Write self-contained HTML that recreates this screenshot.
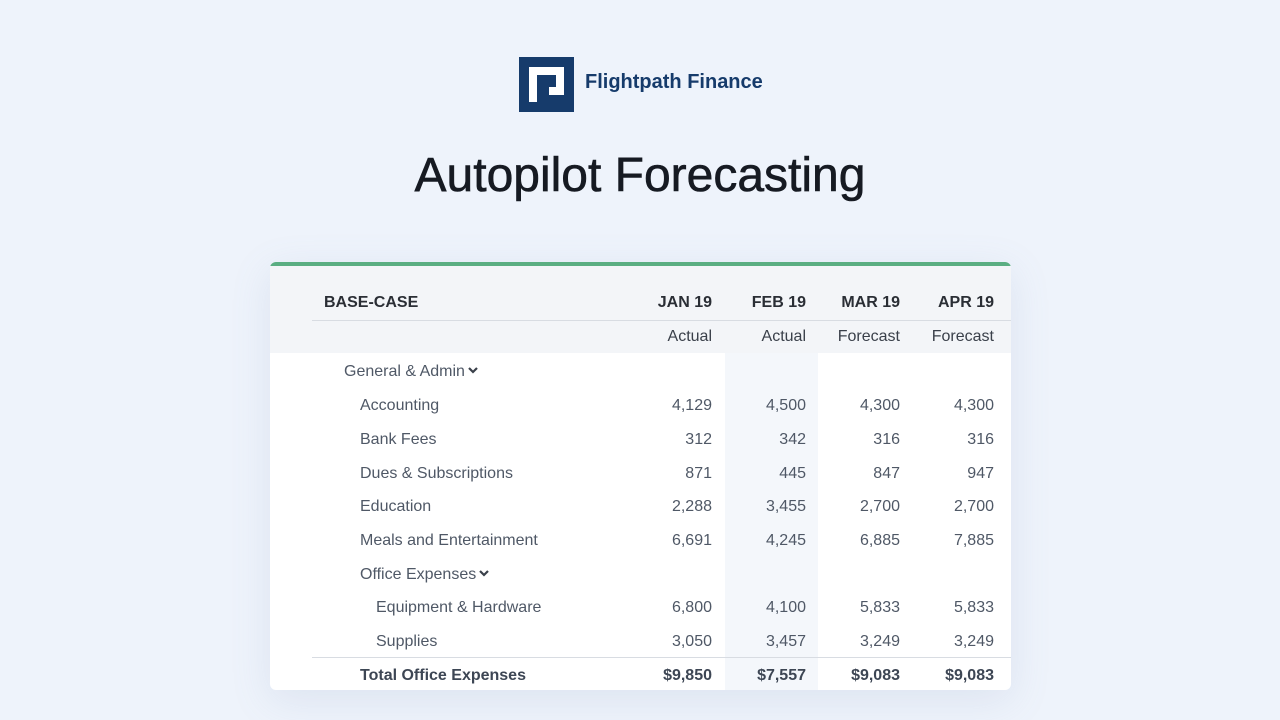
<!DOCTYPE html>
<html><head><meta charset="utf-8"><style>
*{margin:0;padding:0;box-sizing:border-box}
body{width:1280px;height:720px;background:#eef3fb;font-family:"Liberation Sans",sans-serif;position:relative;overflow:hidden}
.a{position:absolute;white-space:nowrap}
.card{position:absolute;left:270px;top:262px;width:741px;height:428px;background:#fff;border-radius:6px;box-shadow:0 10px 40px rgba(120,140,180,0.15);overflow:hidden}
.hdr{position:absolute;left:0;top:0;width:741px;height:91px;background:#f3f5f8;border-top:4px solid #5aae82}
.feb{position:absolute;left:455px;top:91px;width:93px;height:337px;background:#f4f7fb}
.h,.s,.t,.n{margin-top:2px}
.h{font-size:16px;font-weight:bold;color:#2a2e35}
.s{font-size:16px;color:#3a404a}
.t{font-size:16px;color:#4f5866}
.n{font-size:16px;color:#4f5866;text-align:right;width:90px}
.b{font-weight:bold;color:#3d4654}
.chev{display:inline-block;vertical-align:middle;margin-left:2px;margin-top:-3px}
</style></head><body>
<svg class="a" style="left:519px;top:57px" width="55" height="55" viewBox="0 0 55 55">
<rect width="55" height="55" fill="#163b6b"/>
<path d="M10 10 H45 V38 H30 V30 H37 V18 H18 V45 H10 Z" fill="#fff"/>
</svg>
<div class="a" style="left:585px;top:71px;font-size:20px;font-weight:bold;color:#163b6b">Flightpath Finance</div>
<div class="a" style="left:0;width:1280px;text-align:center;top:148px;font-size:48px;color:#161a22;-webkit-text-stroke:0.6px #161a22">Autopilot Forecasting</div>
<div class="card">
<div class="hdr"></div>
<div class="feb"></div>
<div class="a" style="left:42px;top:58px;width:699px;height:1px;background:#d8dce2"></div>
<div class="a" style="left:42px;top:395px;width:699px;height:1px;background:#d8dce2"></div>
</div>
<div class="a h" style="left:324px;top:292px">BASE-CASE</div>
<div class="a h n" style="left:622px;top:292px;color:#2a2e35;font-weight:bold">JAN 19</div>
<div class="a h n" style="left:716px;top:292px;color:#2a2e35;font-weight:bold">FEB 19</div>
<div class="a h n" style="left:810px;top:292px;color:#2a2e35;font-weight:bold">MAR 19</div>
<div class="a h n" style="left:904px;top:292px;color:#2a2e35;font-weight:bold">APR 19</div>
<div class="a s n" style="left:622px;top:326px;color:#3a404a">Actual</div>
<div class="a s n" style="left:716px;top:326px;color:#3a404a">Actual</div>
<div class="a s n" style="left:810px;top:326px;color:#3a404a">Forecast</div>
<div class="a s n" style="left:904px;top:326px;color:#3a404a">Forecast</div>
<div class="a t" style="left:344px;top:361px">General &amp; Admin<svg class="chev" width="12" height="8" viewBox="0 0 12 8"><path d="M2 2 L6 6 L10 2" stroke="#3a404a" stroke-width="2.2" fill="none"/></svg></div>
<div class="a t" style="left:360px;top:395px">Accounting</div>
<div class="a t" style="left:360px;top:429px">Bank Fees</div>
<div class="a t" style="left:360px;top:463px">Dues &amp; Subscriptions</div>
<div class="a t" style="left:360px;top:496px">Education</div>
<div class="a t" style="left:360px;top:530px">Meals and Entertainment</div>
<div class="a t" style="left:360px;top:564px">Office Expenses<svg class="chev" width="12" height="8" viewBox="0 0 12 8"><path d="M2 2 L6 6 L10 2" stroke="#3a404a" stroke-width="2.2" fill="none"/></svg></div>
<div class="a t" style="left:376px;top:597px">Equipment &amp; Hardware</div>
<div class="a t" style="left:376px;top:631px">Supplies</div>
<div class="a t b" style="left:360px;top:665px">Total Office Expenses</div>

<div class="a n" style="left:622px;top:395px">4,129</div><div class="a n" style="left:716px;top:395px">4,500</div><div class="a n" style="left:810px;top:395px">4,300</div><div class="a n" style="left:904px;top:395px">4,300</div>
<div class="a n" style="left:622px;top:429px">312</div><div class="a n" style="left:716px;top:429px">342</div><div class="a n" style="left:810px;top:429px">316</div><div class="a n" style="left:904px;top:429px">316</div>
<div class="a n" style="left:622px;top:463px">871</div><div class="a n" style="left:716px;top:463px">445</div><div class="a n" style="left:810px;top:463px">847</div><div class="a n" style="left:904px;top:463px">947</div>
<div class="a n" style="left:622px;top:496px">2,288</div><div class="a n" style="left:716px;top:496px">3,455</div><div class="a n" style="left:810px;top:496px">2,700</div><div class="a n" style="left:904px;top:496px">2,700</div>
<div class="a n" style="left:622px;top:530px">6,691</div><div class="a n" style="left:716px;top:530px">4,245</div><div class="a n" style="left:810px;top:530px">6,885</div><div class="a n" style="left:904px;top:530px">7,885</div>
<div class="a n" style="left:622px;top:597px">6,800</div><div class="a n" style="left:716px;top:597px">4,100</div><div class="a n" style="left:810px;top:597px">5,833</div><div class="a n" style="left:904px;top:597px">5,833</div>
<div class="a n" style="left:622px;top:631px">3,050</div><div class="a n" style="left:716px;top:631px">3,457</div><div class="a n" style="left:810px;top:631px">3,249</div><div class="a n" style="left:904px;top:631px">3,249</div>
<div class="a n b" style="left:622px;top:665px">$9,850</div><div class="a n b" style="left:716px;top:665px">$7,557</div><div class="a n b" style="left:810px;top:665px">$9,083</div><div class="a n b" style="left:904px;top:665px">$9,083</div>
</body></html>
